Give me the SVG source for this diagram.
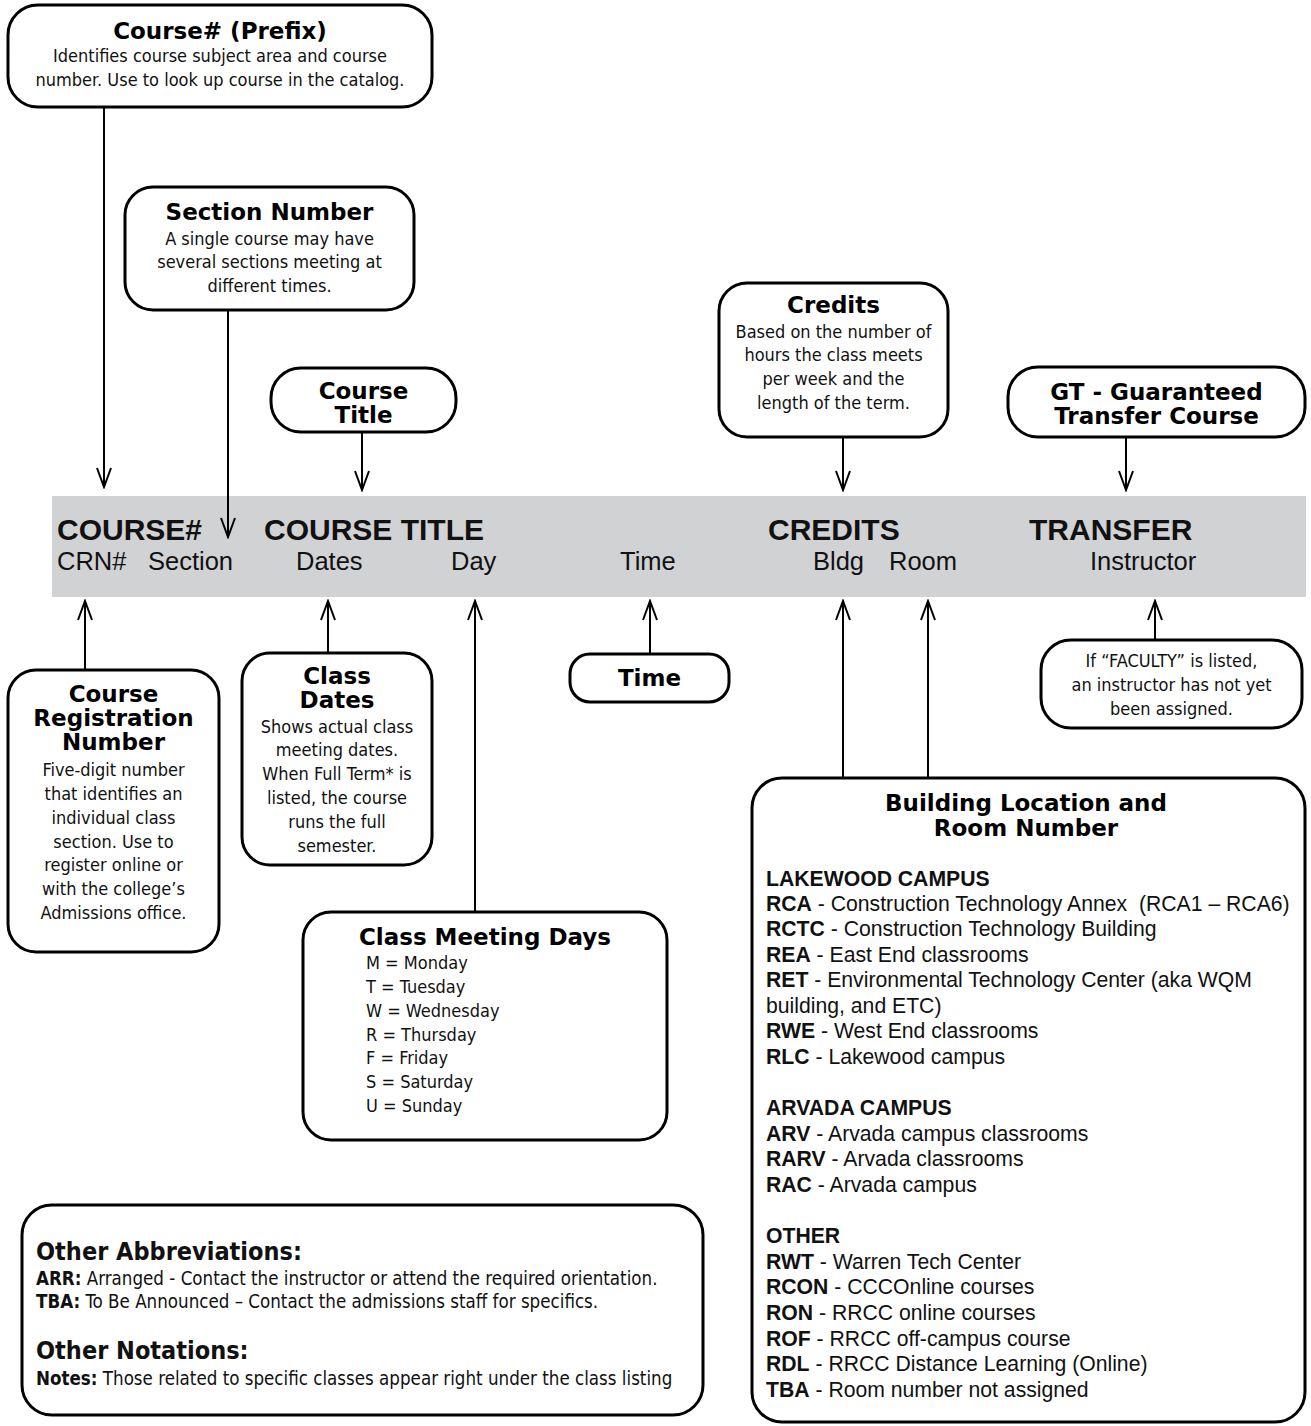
<svg xmlns="http://www.w3.org/2000/svg" width="1311" height="1426" viewBox="0 0 1311 1426">
<defs>
<marker id="ah" markerUnits="userSpaceOnUse" markerWidth="24" markerHeight="20" viewBox="-22 -10 24 20" refX="0" refY="0" orient="auto">
<path d="M-19,-7 L0,0 L-19,7" fill="none" stroke="#000" stroke-width="2"/>
</marker>
<style>
.box{fill:#fff;stroke:#000;stroke-width:3}
.hd{font-family:"DejaVu Sans",Verdana,sans-serif;font-weight:bold;font-size:23px;fill:#000;text-anchor:middle}
.bd{font-family:"DejaVu Sans Condensed","DejaVu Sans",sans-serif;font-size:18px;fill:#111;text-anchor:middle}
.dl{font-family:"DejaVu Sans Condensed","DejaVu Sans",sans-serif;font-size:18px;fill:#111}
.b1{font-family:"Liberation Sans",Arial,sans-serif;font-weight:bold;font-size:30px;fill:#111}
.b2{font-family:"Liberation Sans",Arial,sans-serif;font-size:25.5px;fill:#111}
.bl{font-family:"Liberation Sans",Arial,sans-serif;font-size:21.2px;fill:#111}
.bl tspan.k{font-weight:bold}
.oh{font-family:"DejaVu Sans Condensed","DejaVu Sans",sans-serif;font-weight:bold;font-size:25px;fill:#111}
.ot{font-family:"DejaVu Sans Condensed","DejaVu Sans",sans-serif;font-size:18.6px;fill:#111}
.ot tspan.k{font-weight:bold}
.cn line{stroke:#000;stroke-width:2;fill:none}
</style>
</defs>
<rect width="1311" height="1426" fill="#fff"/>

<g id="band">
<rect x="52" y="496" width="1254" height="101" fill="#d1d2d4"/>
<text class="b1" x="57" y="540">COURSE#</text>
<text class="b1" x="264" y="540">COURSE TITLE</text>
<text class="b1" x="768" y="540">CREDITS</text>
<text class="b1" x="1029" y="540">TRANSFER</text>
<text class="b2" x="57" y="570">CRN#</text>
<text class="b2" x="148" y="570">Section</text>
<text class="b2" x="296" y="570">Dates</text>
<text class="b2" x="451" y="570">Day</text>
<text class="b2" x="620" y="570">Time</text>
<text class="b2" x="813" y="570">Bldg</text>
<text class="b2" x="889" y="570">Room</text>
<text class="b2" x="1090" y="570">Instructor</text>
</g>

<g id="connectors" class="cn">
<line x1="104" y1="107" x2="104" y2="487" marker-end="url(#ah)"/>
<line x1="228" y1="310" x2="228" y2="537" marker-end="url(#ah)"/>
<line x1="362" y1="432" x2="362" y2="490" marker-end="url(#ah)"/>
<line x1="843" y1="437" x2="843" y2="490" marker-end="url(#ah)"/>
<line x1="1126" y1="437" x2="1126" y2="490" marker-end="url(#ah)"/>
<line x1="85" y1="670" x2="85" y2="601" marker-end="url(#ah)"/>
<line x1="328" y1="653" x2="328" y2="601" marker-end="url(#ah)"/>
<line x1="475" y1="912" x2="475" y2="601" marker-end="url(#ah)"/>
<line x1="650" y1="654" x2="650" y2="601" marker-end="url(#ah)"/>
<line x1="843" y1="778" x2="843" y2="601" marker-end="url(#ah)"/>
<line x1="928" y1="778" x2="928" y2="601" marker-end="url(#ah)"/>
<line x1="1155" y1="640" x2="1155" y2="601" marker-end="url(#ah)"/>
</g>

<g id="course-prefix">
<rect class="box" x="8" y="5" width="424" height="102" rx="30"/>
<text class="hd" x="220" y="39">Course# (Prefix)</text>
<text class="bd" x="220" y="62">Identifies course subject area and course</text>
<text class="bd" x="220" y="86">number. Use to look up course in the catalog.</text>
</g>

<g id="section-number">
<rect class="box" x="125" y="187" width="289" height="123" rx="28"/>
<text class="hd" x="269.5" y="220">Section Number</text>
<text class="bd" x="269.5" y="245">A single course may have</text>
<text class="bd" x="269.5" y="268">several sections meeting at</text>
<text class="bd" x="269.5" y="292">different times.</text>
</g>

<g id="course-title">
<rect class="box" x="271" y="368" width="185" height="64" rx="30"/>
<text class="hd" x="363.5" y="399">Course</text>
<text class="hd" x="363.5" y="423">Title</text>
</g>

<g id="credits">
<rect class="box" x="719" y="283" width="229" height="154" rx="28"/>
<text class="hd" x="833.5" y="313">Credits</text>
<text class="bd" x="833.5" y="338">Based on the number of</text>
<text class="bd" x="833.5" y="361">hours the class meets</text>
<text class="bd" x="833.5" y="385">per week and the</text>
<text class="bd" x="833.5" y="409">length of the term.</text>
</g>

<g id="gt-transfer">
<rect class="box" x="1008" y="367" width="297" height="70" rx="30"/>
<text class="hd" x="1156.5" y="400">GT - Guaranteed</text>
<text class="hd" x="1156.5" y="424">Transfer Course</text>
</g>

<g id="crn">
<rect class="box" x="8" y="670" width="211" height="282" rx="28"/>
<text class="hd" x="113.5" y="702">Course</text>
<text class="hd" x="113.5" y="726">Registration</text>
<text class="hd" x="113.5" y="750">Number</text>
<text class="bd" x="113.5" y="776">Five-digit number</text>
<text class="bd" x="113.5" y="800">that identifies an</text>
<text class="bd" x="113.5" y="824">individual class</text>
<text class="bd" x="113.5" y="848">section. Use to</text>
<text class="bd" x="113.5" y="871">register online or</text>
<text class="bd" x="113.5" y="895">with the college’s</text>
<text class="bd" x="113.5" y="919">Admissions office.</text>
</g>

<g id="class-dates">
<rect class="box" x="242" y="653" width="190" height="212" rx="28"/>
<text class="hd" x="337" y="684">Class</text>
<text class="hd" x="337" y="708">Dates</text>
<text class="bd" x="337" y="733">Shows actual class</text>
<text class="bd" x="337" y="756">meeting dates.</text>
<text class="bd" x="337" y="780">When Full Term* is</text>
<text class="bd" x="337" y="804">listed, the course</text>
<text class="bd" x="337" y="828">runs the full</text>
<text class="bd" x="337" y="852">semester.</text>
</g>

<g id="time">
<rect class="box" x="570" y="654" width="159" height="48" rx="20"/>
<text class="hd" x="649.5" y="686">Time</text>
</g>

<g id="faculty">
<rect class="box" x="1041" y="640" width="261" height="88" rx="30"/>
<text class="bd" x="1171.5" y="667">If “FACULTY” is listed,</text>
<text class="bd" x="1171.5" y="691">an instructor has not yet</text>
<text class="bd" x="1171.5" y="715">been assigned.</text>
</g>

<g id="meeting-days">
<rect class="box" x="303" y="912" width="364" height="228" rx="28"/>
<text class="hd" x="485" y="945">Class Meeting Days</text>
<text class="dl" x="366" y="969">M = Monday</text>
<text class="dl" x="366" y="993">T = Tuesday</text>
<text class="dl" x="366" y="1017">W = Wednesday</text>
<text class="dl" x="366" y="1041">R = Thursday</text>
<text class="dl" x="366" y="1064">F = Friday</text>
<text class="dl" x="366" y="1088">S = Saturday</text>
<text class="dl" x="366" y="1112">U = Sunday</text>
</g>

<g id="building">
<rect class="box" x="752" y="778" width="553" height="644" rx="30"/>
<text class="hd" x="1026" y="811">Building Location and</text>
<text class="hd" x="1026" y="836">Room Number</text>
<text class="bl" x="766" y="886"><tspan class="k">LAKEWOOD CAMPUS</tspan></text>
<text class="bl" x="766" y="911"><tspan class="k">RCA</tspan> - Construction Technology Annex&#160; (RCA1 – RCA6)</text>
<text class="bl" x="766" y="936"><tspan class="k">RCTC</tspan> - Construction Technology Building</text>
<text class="bl" x="766" y="962"><tspan class="k">REA</tspan> - East End classrooms</text>
<text class="bl" x="766" y="987"><tspan class="k">RET</tspan> - Environmental Technology Center (aka WQM</text>
<text class="bl" x="766" y="1013">building, and ETC)</text>
<text class="bl" x="766" y="1038"><tspan class="k">RWE</tspan> - West End classrooms</text>
<text class="bl" x="766" y="1064"><tspan class="k">RLC</tspan> - Lakewood campus</text>
<text class="bl" x="766" y="1115"><tspan class="k">ARVADA CAMPUS</tspan></text>
<text class="bl" x="766" y="1141"><tspan class="k">ARV</tspan> - Arvada campus classrooms</text>
<text class="bl" x="766" y="1166"><tspan class="k">RARV</tspan> - Arvada classrooms</text>
<text class="bl" x="766" y="1192"><tspan class="k">RAC</tspan> - Arvada campus</text>
<text class="bl" x="766" y="1243"><tspan class="k">OTHER</tspan></text>
<text class="bl" x="766" y="1269"><tspan class="k">RWT</tspan> - Warren Tech Center</text>
<text class="bl" x="766" y="1294"><tspan class="k">RCON</tspan> - CCCOnline courses</text>
<text class="bl" x="766" y="1320"><tspan class="k">RON</tspan> - RRCC online courses</text>
<text class="bl" x="766" y="1346"><tspan class="k">ROF</tspan> - RRCC off-campus course</text>
<text class="bl" x="766" y="1371"><tspan class="k">RDL</tspan> - RRCC Distance Learning (Online)</text>
<text class="bl" x="766" y="1397"><tspan class="k">TBA</tspan> - Room number not assigned</text>
</g>

<g id="other">
<rect class="box" x="22" y="1205" width="681" height="210" rx="30"/>
<text class="oh" x="36" y="1260">Other Abbreviations:</text>
<text class="ot" x="36" y="1285"><tspan class="k">ARR:</tspan> Arranged - Contact the instructor or attend the required orientation.</text>
<text class="ot" x="36" y="1308"><tspan class="k">TBA:</tspan> To Be Announced – Contact the admissions staff for specifics.</text>
<text class="oh" x="36" y="1359">Other Notations:</text>
<text class="ot" x="36" y="1385"><tspan class="k">Notes:</tspan> Those related to specific classes appear right under the class listing</text>
</g>
</svg>
